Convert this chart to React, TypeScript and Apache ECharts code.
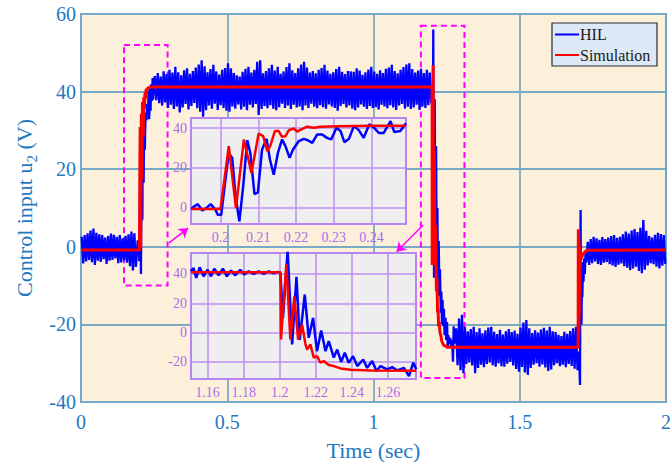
import React, { useEffect, useRef } from "react";
import * as echarts from "echarts";

// ---------------- data ----------------
const xTicksMain = [0, 0.5, 1, 1.5, 2];
const yTicksMain = [-40, -20, 0, 20, 40, 60];

const BIN = 0.01;
// HIL noise envelope (max / min per 0.01 s bin)
const hilA_start = 0;
const hilA_hi = [2.6, 3.0, 3.5, 4.2, 4.7, 3.6, 3.2, 3.0, 2.4, 2.8, 3.4, 3.1, 2.6, 3.0, 2.2, 2.8, 3.2, 3.9, 3.5];
const hilA_lo = [-4.3, -3.8, -3.4, -4.0, -4.7, -3.6, -3.9, -3.2, -4.4, -3.6, -3.4, -3.0, -4.2, -4.0, -3.5, -4.1, -5.0, -6.1, -5.2];

const hilB_start = 0.25;
const hilB_hi = [
  44.0, 44.8, 43.9, 45.2, 44.5, 45.6, 44.9, 46.4, 45.0, 44.2,
  45.5, 46.0, 44.6, 45.3, 46.2, 47.0, 48.1, 46.5, 45.0, 45.8,
  46.9, 45.2, 44.4, 45.6, 46.1, 47.3, 46.0, 44.8, 44.2, 43.9,
  45.1, 45.9, 46.4, 44.9, 45.6, 47.7, 48.1, 44.7, 45.3, 46.0,
  46.9, 45.4, 46.4, 44.6, 45.2, 46.3, 47.3, 45.5, 44.8, 46.0,
  47.0, 47.7, 46.2, 44.9, 45.3, 44.7, 45.6, 46.1, 46.9, 45.4,
  44.6, 45.0, 45.8, 46.4, 45.1, 44.5, 45.3, 45.2, 45.1, 46.0,
  45.4, 44.3, 45.0, 45.7, 46.4, 45.2, 44.6, 45.5, 44.8, 45.9,
  46.2, 46.9, 45.3, 44.7, 45.6, 46.3, 47.0, 47.3, 45.8, 44.9,
  45.4, 45.9, 44.8, 45.6, 44.9,
];
const hilB_lo = [
  37.8, 37.0, 36.4, 37.2, 35.8, 36.6, 35.5, 36.2, 34.6, 35.9,
  36.8, 35.4, 36.3, 37.1, 35.7, 34.8, 33.5, 35.2, 36.4, 35.6,
  36.9, 35.3, 36.5, 35.8, 35.1, 34.8, 36.2, 35.6, 36.7, 35.4,
  36.1, 35.2, 36.6, 35.9, 36.8, 34.0, 35.5, 36.3, 35.7, 36.5,
  35.6, 35.2, 36.0, 36.9, 35.8, 36.4, 35.5, 36.6, 35.9, 36.2,
  35.2, 36.4, 35.8, 36.9, 36.1, 35.7, 36.5, 36.0, 35.6, 36.7,
  36.2, 35.8, 35.1, 36.3, 36.8, 35.9, 36.4, 35.6, 35.2, 35.9,
  36.7, 36.1, 35.5, 36.3, 35.8, 36.0, 35.4, 36.6, 36.2, 35.7,
  36.5, 35.9, 35.3, 36.4, 36.8, 35.6, 36.1, 35.5, 35.9, 36.6,
  35.3, 36.2, 35.8, 36.5, 37.0,
];

const hilC_start = 1.28;
const hilC_hi = [
  -21.0, -18.5, -17.5, -20.6, -21.8, -21.2, -20.6, -22.0, -21.0, -22.3,
  -21.5, -20.8, -20.6, -21.9, -22.5, -21.4, -22.6, -21.8, -21.2, -22.0,
  -21.6, -22.4, -20.8, -19.5, -18.9, -21.0, -22.2, -21.5, -22.1, -21.3,
  -20.9, -21.6, -20.6, -21.8, -22.0, -22.7, -23.0, -21.9, -22.4, -21.7,
  -21.0, -20.6,
];
const hilC_lo = [
  -30.5, -31.8, -32.6, -30.2, -29.8, -30.6, -32.6, -31.2, -30.4, -31.0,
  -30.2, -29.8, -30.5, -30.9, -30.0, -30.8, -30.9, -30.1, -29.7, -30.6,
  -31.5, -32.2, -31.0, -32.4, -33.0, -31.2, -30.4, -30.0, -30.9, -30.3,
  -31.1, -32.0, -31.6, -30.5, -30.0, -30.8, -30.4, -31.0, -30.2, -30.7,
  -31.4, -31.8,
];

const hilD_start = 1.73;
const hilD_hi = [1.3, 2.0, 2.6, 2.2, 1.8, 2.5, 2.0, 2.4, 2.8, 3.0, 2.3, 2.6, 3.2, 3.9, 3.4, 4.2, 4.6, 3.8, 4.9, 6.9, 4.1, 2.8, 2.4, 3.1, 3.6, 3.3, 3.0];
const hilD_lo = [-4.7, -4.2, -3.8, -4.4, -4.7, -4.1, -3.9, -4.5, -4.8, -5.2, -4.6, -4.3, -5.0, -5.4, -6.0, -5.6, -5.1, -6.2, -6.8, -5.9, -4.8, -4.2, -4.5, -5.1, -5.6, -4.9, -4.4];

// Step-up transient at t = 0.2 (inset 1)
const hilStepUp: [number, number][] = [
  [0.1922, -0.8], [0.1930, 0.5], [0.1940, 1.7], [0.1952, -1.5], [0.1960, -0.7], [0.1974, 1.7],
  [0.1987, -1.2], [0.1993, -3.7], [0.2002, -3.7], [0.2012, 12.3], [0.2022, 27.5], [0.2031, 25.0],
  [0.2040, 5.6], [0.2050, -7.0], [0.2060, 10.6], [0.2071, 33.9], [0.2079, 27.5], [0.2090, 6.8],
  [0.2099, 7.6], [0.2110, 29.2], [0.2122, 34.6], [0.2131, 24.1], [0.2141, 16.5], [0.2152, 27.5],
  [0.2163, 34.3], [0.2172, 30.9], [0.2183, 25.0], [0.2192, 29.2], [0.2207, 33.4], [0.2221, 34.6],
  [0.2231, 33.9], [0.2243, 32.6], [0.2256, 36.8], [0.2269, 36.8], [0.2282, 35.1], [0.2293, 34.3],
  [0.2307, 40.2], [0.2318, 38.5], [0.2328, 32.9], [0.2340, 34.6], [0.2353, 41.0], [0.2366, 39.0],
  [0.2379, 35.1], [0.2394, 41.9], [0.2406, 40.2], [0.2419, 37.6], [0.2432, 37.6], [0.2450, 43.5],
  [0.2460, 38.0], [0.2476, 38.5], [0.2491, 42.4],
];
const simStepUp: [number, number][] = [
  [0.1922, -0.8], [0.2000, -0.8], [0.2022, 30.9], [0.2041, -0.3], [0.2062, 34.3], [0.2082, 17.4],
  [0.2101, 37.3], [0.2113, 36.0], [0.2124, 28.4], [0.2132, 31.2], [0.2144, 38.5], [0.2154, 38.5],
  [0.2163, 35.6], [0.2172, 35.9], [0.2181, 39.0], [0.2194, 39.8], [0.2203, 38.2], [0.2213, 39.3],
  [0.2229, 40.7], [0.2247, 40.2], [0.2265, 40.7], [0.2309, 41.0], [0.2397, 41.2], [0.2491, 41.2],
];

// Step-down transient at t = 1.2 (inset 2)
const hilStepDown: [number, number][] = [
  [1.1507, 41.8], [1.1522, 44.0], [1.1537, 37.3], [1.1556, 44.5], [1.1578, 38.4], [1.1600, 42.9],
  [1.1619, 38.4], [1.1637, 43.6], [1.1661, 39.1], [1.1685, 43.6], [1.1707, 38.4], [1.1730, 42.3],
  [1.1754, 39.1], [1.1781, 42.9], [1.1804, 39.6], [1.1828, 41.8], [1.1856, 40.0], [1.1883, 41.8],
  [1.1911, 40.0], [1.1939, 41.8], [1.1967, 40.5], [1.1989, 41.4], [1.2004, 40.7], [1.2018, 10.0],
  [1.2044, 56.0], [1.2069, -8.0], [1.2093, 38.0], [1.2111, -5.0], [1.2139, 26.0], [1.2161, -3.5],
  [1.2185, 10.0], [1.2207, -12.6], [1.2230, 1.5], [1.2254, -12.6], [1.2272, -5.8], [1.2300, -17.0],
  [1.2319, -11.5], [1.2341, -19.9], [1.2361, -13.7], [1.2383, -20.5], [1.2407, -16.0], [1.2430, -22.8],
  [1.2463, -18.3], [1.2485, -24.0], [1.2513, -19.4], [1.2537, -26.2], [1.2559, -22.8], [1.2596, -25.0],
  [1.2624, -23.5], [1.2652, -25.8], [1.2689, -24.0], [1.2717, -29.6], [1.2741, -20.5], [1.2757, -25.0],
];
const simStepDown: [number, number][] = [
  [1.1507, 41.2], [1.2004, 41.2], [1.2007, -4.7], [1.2037, 46.8], [1.2059, -4.7], [1.2081, 24.8],
  [1.2102, -4.7], [1.2124, 5.5], [1.2143, -8.0], [1.2152, -11.5], [1.2170, -8.0], [1.2189, -17.0],
  [1.2207, -16.0], [1.2226, -20.5], [1.2244, -19.4], [1.2272, -22.0], [1.2300, -22.8], [1.2337, -24.4],
  [1.2393, -25.3], [1.2504, -25.8], [1.2757, -25.9],
];

// Step back at t = 1.7
const hilStep17: [number, number][] = [
  [1.6990, -28], [1.7020, -27], [1.7060, -35.6], [1.7080, 9.5], [1.7095, -15], [1.7110, -20],
  [1.7125, -8], [1.7140, -13], [1.7160, -4], [1.7180, -9], [1.7200, -3], [1.7225, -7],
  [1.7250, -1], [1.7275, -4],
];
const simStep17: [number, number][] = [
  [1.6995, -25.9], [1.7000, -26], [1.7003, 4.5], [1.7009, -24], [1.7015, 3], [1.7021, -22],
  [1.7027, 1.5], [1.7034, -18], [1.7042, 0], [1.7052, -12], [1.7062, -1], [1.7072, -6],
  [1.7082, -2], [1.7100, -3], [1.7150, -2.2], [1.7200, -1.5], [1.7300, -0.9], [2.0, -0.8],
];
const simStart: [number, number][] = [[0, -0.8]];

// Zoom boxes and arrows (data coordinates)
const zoomBoxes = [
  [[0.147, 52], [0.296, -10]],
  [[1.162, 57], [1.311, -33.8]],
];
const arrows = [
  [[0.301, 1.0], [0.366, 4.8]],
  [[1.170, 5.6], [1.079, -1.3]],
];

// Inset ranges
const inset1X = [0.1922, 0.2491];
const inset1Y = [-8.3, 45.1];
const inset2X = [1.1508, 1.2756];
const inset2Y = [-31.6, 54.3];

const legendNames = ["HIL", "Simulation"];

// ---------------- helpers ----------------
function expandBand(start: number, hi: number[], lo: number[]): [number, number][] {
  const out: [number, number][] = [];
  for (let i = 0; i < hi.length; i++) {
    const t0 = start + i * BIN;
    out.push([+(t0 + BIN * 0.25).toFixed(5), hi[i]]);
    out.push([+(t0 + BIN * 0.75).toFixed(5), lo[i]]);
  }
  return out;
}

const hilMain: [number, number][] = [
  ...expandBand(hilA_start, hilA_hi, hilA_lo),
  ...hilStepUp,
  ...expandBand(hilB_start, hilB_hi, hilB_lo),
  ...hilStepDown.filter((p) => p[0] >= 1.2),
  ...expandBand(hilC_start, hilC_hi, hilC_lo),
  ...hilStep17,
  ...expandBand(hilD_start, hilD_hi, hilD_lo),
];
const simMain: [number, number][] = [...simStart, ...simStepUp, ...simStepDown, ...simStep17];

const FONT = "'Liberation Serif', 'Times New Roman', serif";
const AXIS_BLUE = "#1f78bf";
const PURPLE_LABEL = "#a96cf0";
const PURPLE_BORDER = "#9b3cf5";
const PURPLE_GRID = "#bb8ef0";

function insetX(gridIndex: number, range: number[], step: number) {
  return {
    gridIndex, type: "value", min: range[0], max: range[1], minInterval: step, maxInterval: step, z: 11,
    axisLine: { show: false }, axisTick: { show: false },
    axisLabel: { color: PURPLE_LABEL, fontSize: 14, fontFamily: FONT, margin: 6, showMinLabel: false, showMaxLabel: false },
    splitLine: { show: true, lineStyle: { color: PURPLE_GRID, width: 1.5 } },
  };
}
function insetY(gridIndex: number, range: number[], step: number) {
  return {
    gridIndex, type: "value", min: range[0], max: range[1], minInterval: step, maxInterval: step, z: 11,
    axisLine: { show: false }, axisTick: { show: false },
    axisLabel: { color: PURPLE_LABEL, fontSize: 14, fontFamily: FONT, margin: 4, showMinLabel: false, showMaxLabel: false },
    splitLine: { show: true, lineStyle: { color: PURPLE_GRID, width: 1.5 } },
  };
}

const option: any = {
  animation: false,
  backgroundColor: "#ffffff",
  grid: [
    { left: 81, top: 14, width: 585, height: 388, show: true, backgroundColor: "#fdf0da", borderColor: "#1a6fb5", borderWidth: 1.5, z: 0, outerBoundsMode: "none" },
    { left: 191, top: 118, width: 215, height: 106, show: true, backgroundColor: "#eeeeee", borderColor: PURPLE_BORDER, borderWidth: 1.5, z: 10, outerBoundsMode: "none" },
    { left: 191, top: 253, width: 225, height: 126, show: true, backgroundColor: "#eeeeee", borderColor: PURPLE_BORDER, borderWidth: 1.5, z: 10, outerBoundsMode: "none" },
  ],
  xAxis: [
    {
      gridIndex: 0, type: "value", min: xTicksMain[0], max: xTicksMain[xTicksMain.length - 1], interval: 0.5,
      axisLine: { show: false }, axisTick: { show: false },
      axisLabel: { color: AXIS_BLUE, fontSize: 20, fontFamily: FONT, margin: 10 },
      splitLine: { show: true, lineStyle: { color: "#78aac8", width: 1.8 } },
      name: "Time (sec)", nameLocation: "middle", nameGap: 37,
      nameTextStyle: { color: AXIS_BLUE, fontSize: 22, fontFamily: FONT },
    },
    insetX(1, inset1X, 0.01),
    insetX(2, inset2X, 0.02),
  ],
  yAxis: [
    {
      gridIndex: 0, type: "value", min: yTicksMain[0], max: yTicksMain[yTicksMain.length - 1], interval: 20,
      axisLine: { show: false }, axisTick: { show: false },
      axisLabel: { color: AXIS_BLUE, fontSize: 20, fontFamily: FONT, margin: 5 },
      splitLine: { show: true, lineStyle: { color: "#78aac8", width: 1.8 } },
    },
    insetY(1, inset1Y, 20),
    insetY(2, inset2Y, 20),
  ],
  series: [
    { name: legendNames[0], type: "line", xAxisIndex: 0, yAxisIndex: 0, data: hilMain, showSymbol: false, silent: true, z: 2, lineStyle: { color: "#0000ff", width: 2.3, join: "miter" } },
    { name: legendNames[1], type: "line", xAxisIndex: 0, yAxisIndex: 0, data: simMain, showSymbol: false, silent: true, z: 2, lineStyle: { color: "#ff0000", width: 3 } },
    {
      type: "line", xAxisIndex: 0, yAxisIndex: 0, data: [], silent: true, z: 4,
      markArea: {
        silent: true,
        label: { show: false },
        itemStyle: { color: "rgba(0,0,0,0)", borderColor: "#ff00ff", borderWidth: 2, borderType: [6, 4] },
        data: zoomBoxes.map((b) => [{ coord: b[0] }, { coord: b[1] }]),
      },
      markLine: {
        silent: true,
        symbol: ["none", "arrow"],
        symbolSize: 9,
        label: { show: false },
        lineStyle: { color: "#ff00ff", width: 1.5, type: "solid" },
        data: arrows.map((a) => [{ coord: a[0] }, { coord: a[1] }]),
      },
    },
    { type: "line", xAxisIndex: 1, yAxisIndex: 1, data: hilStepUp, showSymbol: false, silent: true, z: 12, lineStyle: { color: "#0000ff", width: 2.5 } },
    { type: "line", xAxisIndex: 1, yAxisIndex: 1, data: simStepUp, showSymbol: false, silent: true, z: 12, lineStyle: { color: "#ff0000", width: 2.5 } },
    { type: "line", xAxisIndex: 2, yAxisIndex: 2, data: hilStepDown, showSymbol: false, silent: true, z: 12, lineStyle: { color: "#0000ff", width: 2.5 } },
    { type: "line", xAxisIndex: 2, yAxisIndex: 2, data: simStepDown, showSymbol: false, silent: true, z: 12, lineStyle: { color: "#ff0000", width: 2.5 } },
  ],
  graphic: [
    {
      type: "text", x: 24, y: 208, rotation: Math.PI / 2, z: 20,
      style: {
        text: "Control input u{s|2} (V)",
        fill: AXIS_BLUE, fontSize: 22, fontFamily: FONT,
        align: "center", verticalAlign: "middle", textAlign: "center", textVerticalAlign: "middle",
        rich: { s: { fontSize: 15, fontFamily: FONT, fill: AXIS_BLUE, verticalAlign: "bottom", lineHeight: 30 } },
      },
    },
    { type: "rect", z: 20, shape: { x: 552, y: 23, width: 105, height: 43 }, style: { fill: "#dde8f6", stroke: "#2a2a2a", lineWidth: 1.2 } },
    { type: "line", z: 21, shape: { x1: 555, y1: 34.5, x2: 579, y2: 34.5 }, style: { stroke: "#0000ff", lineWidth: 2 } },
    { type: "line", z: 21, shape: { x1: 555, y1: 55, x2: 579, y2: 55 }, style: { stroke: "#ff0000", lineWidth: 2 } },
    { type: "text", z: 21, x: 580, y: 34.5, style: { text: legendNames[0], fill: "#1a1a1a", fontSize: 16, fontFamily: FONT, verticalAlign: "middle", textVerticalAlign: "middle" } },
    { type: "text", z: 21, x: 580, y: 55, style: { text: legendNames[1], fill: "#1a1a1a", fontSize: 16, fontFamily: FONT, verticalAlign: "middle", textVerticalAlign: "middle" } },
  ],
};

export default function App() {
  const ref = useRef<HTMLDivElement>(null);
  useEffect(() => {
    document.body.style.margin = "0";
    const chart = echarts.init(ref.current as HTMLDivElement, undefined, { renderer: "svg" });
    chart.setOption(option);
    return () => chart.dispose();
  }, []);
  return <div ref={ref} style={{ width: 670, height: 465 }} />;
}
